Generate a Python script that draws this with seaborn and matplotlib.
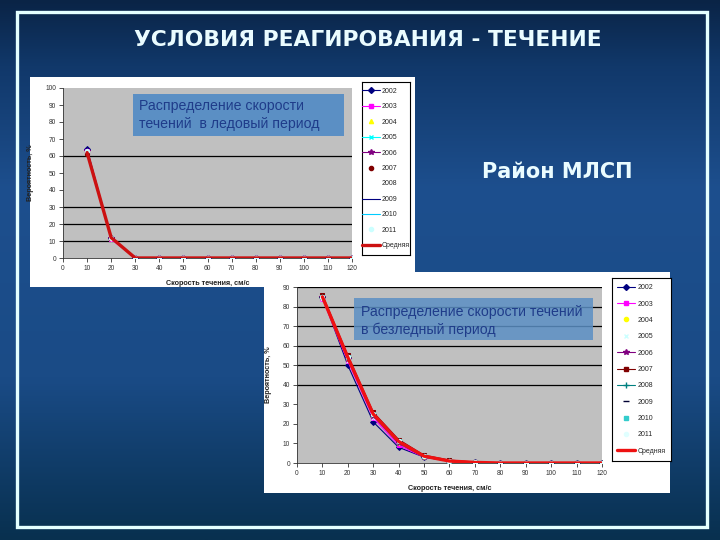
import numpy as np
import pandas as pd
import matplotlib
matplotlib.use("Agg")
import matplotlib.pyplot as plt
import seaborn as sns
from matplotlib.patches import Rectangle
from matplotlib.lines import Line2D
from matplotlib.colors import LinearSegmentedColormap

# data
speed = [10, 20, 30, 40, 50, 60, 70, 80, 90, 100, 110, 120]
years = ["2002", "2003", "2004", "2005", "2006", "2007", "2008", "2009", "2010", "2011"]

# ice period, one row per year
ice_values = [
    [64, 12, 0, 0, 0, 0, 0, 0, 0, 0, 0, 0],
    [63, 11, 0, 0, 0, 0, 0, 0, 0, 0, 0, 0],
    [62, 12, 0, 0, 0, 0, 0, 0, 0, 0, 0, 0],
    [62, 12, 0, 0, 0, 0, 0, 0, 0, 0, 0, 0],
    [63, 12, 0, 0, 0, 0, 0, 0, 0, 0, 0, 0],
    [61, 12, 0, 0, 0, 0, 0, 0, 0, 0, 0, 0],
    [62, 12, 0, 0, 0, 0, 0, 0, 0, 0, 0, 0],
    [62, 12, 0, 0, 0, 0, 0, 0, 0, 0, 0, 0],
    [62, 12, 0, 0, 0, 0, 0, 0, 0, 0, 0, 0],
    [63, 12, 0, 0, 0, 0, 0, 0, 0, 0, 0, 0],
]
ice_mean = [62, 12, 0, 0, 0, 0, 0, 0, 0, 0, 0, 0]

# ice-free period
free_values = [
    [85, 50, 21, 8, 3, 1, 0.3, 0, 0, 0, 0, 0],
    [84, 52, 23, 9, 3, 1, 0.3, 0, 0, 0, 0, 0],
    [85, 53, 24, 10, 3, 1, 0.3, 0, 0, 0, 0, 0],
    [84, 52, 23, 10, 3, 1, 0.3, 0, 0, 0, 0, 0],
    [85, 53, 24, 10, 3, 1, 0.3, 0, 0, 0, 0, 0],
    [86, 55, 26, 12, 4, 1.5, 0.5, 0, 0, 0, 0, 0],
    [85, 54, 25, 11, 3.5, 1, 0.3, 0, 0, 0, 0, 0],
    [85, 54, 25, 11, 3.5, 1, 0.3, 0, 0, 0, 0, 0],
    [85, 54, 25, 11, 3.5, 1, 0.3, 0, 0, 0, 0, 0],
    [85, 54, 25, 11, 3.5, 1, 0.3, 0, 0, 0, 0, 0],
]
free_mean = [85, 54, 25, 11, 3.5, 1, 0.3, 0, 0, 0, 0, 0]

# styles per year
ice_styles = [
    dict(color="#000080", marker="D", ms=3, lw=0.8),
    dict(color="#ff00ff", marker="s", ms=3, lw=0.8),
    dict(color="#ffff00", marker="^", ms=3, lw=0),
    dict(color="#00ffff", marker="x", ms=3, lw=0.8),
    dict(color="#800080", marker="*", ms=4, lw=0.8),
    dict(color="#800000", marker="o", ms=3, lw=0),
    dict(color="#ffffff", marker="|", ms=4, lw=0),
    dict(color="#000080", marker=None, ms=3, lw=0.8),
    dict(color="#00ccff", marker=None, ms=3, lw=0.8),
    dict(color="#ccffff", marker="o", ms=3, lw=0),
]
free_styles = [
    dict(color="#000080", marker="D", ms=3, lw=0.8),
    dict(color="#ff00ff", marker="s", ms=3, lw=0.8),
    dict(color="#ffff00", marker="o", ms=3, lw=0),
    dict(color="#ccffff", marker="x", ms=3, lw=0),
    dict(color="#800080", marker="*", ms=4, lw=0.8),
    dict(color="#800000", marker="s", ms=3, lw=0.8),
    dict(color="#008080", marker="+", ms=4, lw=0.8),
    dict(color="#000033", marker="_", ms=4, lw=0),
    dict(color="#33cccc", marker="s", ms=2.5, lw=0),
    dict(color="#e0ffff", marker="o", ms=3, lw=0),
]

sns.set_style("white")
plt.rcParams["font.family"] = ["Liberation Sans", "DejaVu Sans"]

W, H = 720, 540


def rect(x0, y0, x1, y1):
    # pixel box -> figure coords
    return [x0 / W, 1 - y1 / H, (x1 - x0) / W, (y1 - y0) / H]


fig = plt.figure(figsize=(7.2, 5.4), dpi=100)

# background slide
bg = fig.add_axes([0, 0, 1, 1])
cmap = LinearSegmentedColormap.from_list(
    "slide", [(0, "#0a2446"), (0.12, "#11386a"), (0.35, "#1d4f8e"),
              (0.7, "#1a4b86"), (1, "#08304f")])
grad = np.linspace(0, 1, 256).reshape(-1, 1)
bg.imshow(grad, aspect="auto", cmap=cmap, extent=[0, W, H, 0])
bg.set_xlim(0, W)
bg.set_ylim(H, 0)
bg.axis("off")
bg.add_patch(Rectangle((17, 12), 690, 515, fill=False, ec="#e4ffff", lw=2.4))
bg.add_patch(Rectangle((264, 272), 406, 221, fc="white", ec="none"))
bg.add_patch(Rectangle((30, 77), 385, 210, fc="white", ec="none"))

fig.text(368 / W, 1 - 40 / H, "УСЛОВИЯ РЕАГИРОВАНИЯ - ТЕЧЕНИЕ", color="#eafcff",
         fontsize=15.7, fontweight="bold", ha="center", va="center",
         family=["DejaVu Sans"])
fig.text(557 / W, 1 - 172 / H, "Район МЛСП", color="#eafcff", fontsize=15,
         fontweight="bold", ha="center", va="center", family=["DejaVu Sans"])


def draw_chart(ax_box, leg_box, values, mean, styles, mean_color, ymax, spacing):
    ax = fig.add_axes(rect(*ax_box))
    ax.set_facecolor("#c0c0c0")
    handles = []
    for yr, vals, st in zip(years, values, styles):
        df = pd.DataFrame({"speed": speed, "prob": vals})
        sns.lineplot(data=df, x="speed", y="prob", ax=ax, color=st["color"],
                     marker=st["marker"], markersize=st["ms"], linewidth=st["lw"],
                     markeredgecolor=st["color"], zorder=3)
        handles.append(Line2D([], [], color=st["color"], marker=st["marker"],
                              markersize=st["ms"], lw=st["lw"]))
    dfm = pd.DataFrame({"speed": speed, "prob": mean})
    sns.lineplot(data=dfm, x="speed", y="prob", ax=ax, color=mean_color,
                 linewidth=2.4, zorder=4)
    handles.append(Line2D([], [], color=mean_color, lw=2.4))

    ax.set_xlim(0, 120)
    ax.set_ylim(0, ymax)
    ax.set_xticks(range(0, 121, 10))
    ax.set_yticks(range(0, ymax + 1, 10))
    ax.tick_params(axis="both", labelsize=4.8, length=3, width=0.6,
                   direction="out", colors="#333333", pad=2,
                   bottom=True, left=True)
    for s in ["top", "right"]:
        ax.spines[s].set_visible(False)
    for s in ["left", "bottom"]:
        ax.spines[s].set_color("#333333")
        ax.spines[s].set_linewidth(0.6)
    ax.set_xlabel("Скорость течения, см/с", fontsize=5.2, fontweight="bold",
                  color="#222222", labelpad=6)
    ax.set_ylabel("Вероятность, %", fontsize=5.2, fontweight="bold",
                  color="#222222", labelpad=8)

    lax = fig.add_axes(rect(*leg_box))
    lax.set_xticks([])
    lax.set_yticks([])
    for s in lax.spines.values():
        s.set_color("black")
        s.set_linewidth(0.8)
    lax.legend(handles, years + ["Средняя"], loc="center", frameon=False,
               fontsize=5, labelspacing=spacing, handlelength=2.6,
               handletextpad=0.3, borderpad=0.2)
    return ax


ax1 = draw_chart((63, 88, 352, 258), (362, 82, 410, 255), ice_values, ice_mean,
                 ice_styles, "#cc1111", 100, 1.22)
for g in [10, 20, 30, 60]:
    ax1.axhline(g, color="black", lw=0.9, zorder=2)

ax2 = draw_chart((297, 287, 602, 463), (612, 278, 671, 461), free_values,
                 free_mean, free_styles, "#ee1111", 90, 1.35)
for g in [40, 50, 60, 70, 80, 90]:
    ax2.axhline(g, color="black", lw=0.9, zorder=2)

# text boxes
fig.add_artist(Rectangle(rect(133, 94, 344, 136)[:2], 211 / W, 42 / H,
                         transform=fig.transFigure, fc="#5b8fc4", ec="none"))
fig.text(139 / W, 1 - 106 / H, "Распределение скорости", fontsize=10.2,
         color="#1f3c8a", va="center")
fig.text(139 / W, 1 - 124 / H, "течений  в ледовый период", fontsize=10.2,
         color="#1f3c8a", va="center")

fig.add_artist(Rectangle(rect(354, 298, 593, 340)[:2], 239 / W, 42 / H,
                         transform=fig.transFigure, fc="#5b8fc4", ec="none",
                         alpha=0.85))
fig.text(361 / W, 1 - 312 / H, "Распределение скорости течений", fontsize=10.2,
         color="#1f3c8a", va="center")
fig.text(361 / W, 1 - 330 / H, "в безледный период", fontsize=10.2,
         color="#1f3c8a", va="center")

fig.savefig("out.png", dpi=100)
